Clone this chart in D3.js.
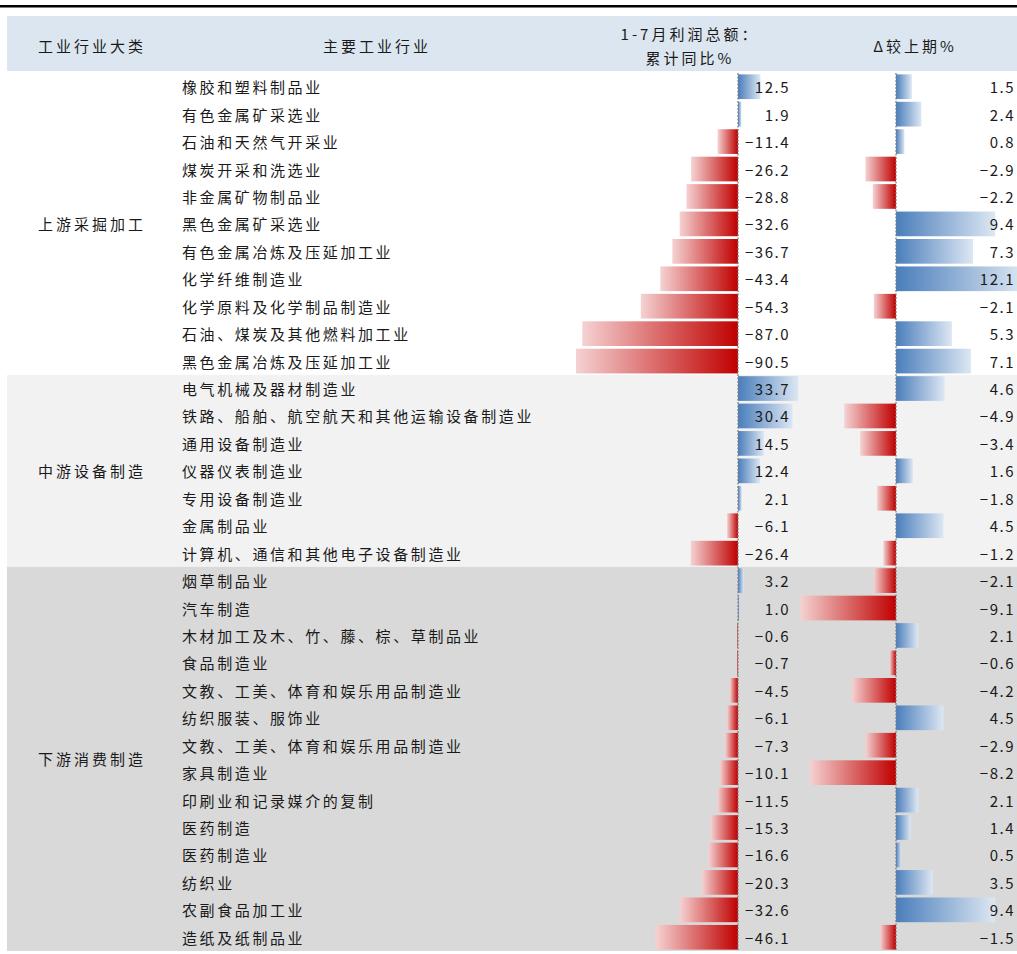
<!DOCTYPE html>
<html>
<head>
<meta charset="utf-8">
<script src="https://cdn.jsdelivr.net/npm/d3@7"></script>
<style>
  body { margin: 0; background: #fff; }
  svg text { font-family: "Noto Sans CJK SC", "Noto Sans", sans-serif; fill: #1a1a1a; }
</style>
</head>
<body>
<div id="chart"></div>
<script>
// Datos de la tabla
const groups = ["上游采掘加工", "中游设备制造", "下游消费制造"];
const groupSizes = [11, 7, 14];

const industries = [
  "橡胶和塑料制品业", "有色金属矿采选业", "石油和天然气开采业", "煤炭开采和洗选业",
  "非金属矿物制品业", "黑色金属矿采选业", "有色金属冶炼及压延加工业", "化学纤维制造业",
  "化学原料及化学制品制造业", "石油、煤炭及其他燃料加工业", "黑色金属冶炼及压延加工业",
  "电气机械及器材制造业", "铁路、船舶、航空航天和其他运输设备制造业", "通用设备制造业",
  "仪器仪表制造业", "专用设备制造业", "金属制品业", "计算机、通信和其他电子设备制造业",
  "烟草制品业", "汽车制造", "木材加工及木、竹、藤、棕、草制品业", "食品制造业",
  "文教、工美、体育和娱乐用品制造业", "纺织服装、服饰业", "文教、工美、体育和娱乐用品制造业",
  "家具制造业", "印刷业和记录媒介的复制", "医药制造", "医药制造业", "纺织业",
  "农副食品加工业", "造纸及纸制品业"
];

const profitYoY = [
  12.5, 1.9, -11.4, -26.2, -28.8, -32.6, -36.7, -43.4, -54.3, -87.0, -90.5,
  33.7, 30.4, 14.5, 12.4, 2.1, -6.1, -26.4,
  3.2, 1.0, -0.6, -0.7, -4.5, -6.1, -7.3, -10.1, -11.5, -15.3, -16.6, -20.3, -32.6, -46.1
];

const changeVsPrev = [
  1.5, 2.4, 0.8, -2.9, -2.2, 9.4, 7.3, 12.1, -2.1, 5.3, 7.1,
  4.6, -4.9, -3.4, 1.6, -1.8, 4.5, -1.2,
  -2.1, -9.1, 2.1, -0.6, -4.2, 4.5, -2.9, -8.2, 2.1, 1.4, 0.5, 3.5, 9.4, -1.5
];

const headers = ["工业行业大类", "主要工业行业", ["1-7月利润总额：", "累计同比%"], "Δ较上期%"];

// Dimensiones
const WIDTH = 1017;
const HEIGHT = 954;
const rowsTop = 73;
const rowsBottom = 951;

const svg = d3.select("#chart")
  .append("svg")
  .attr("width", WIDTH)
  .attr("height", HEIGHT);

// Gradientes tipo "data bar" de Excel
const defs = svg.append("defs");
const redGrad = defs.append("linearGradient").attr("id", "redGrad")
  .attr("x1", "0").attr("x2", "1").attr("y1", "0").attr("y2", "0");
redGrad.append("stop").attr("offset", "0%").attr("stop-color", "#f5d2d2");
redGrad.append("stop").attr("offset", "100%").attr("stop-color", "#c00000");

const blueGrad = defs.append("linearGradient").attr("id", "blueGrad")
  .attr("x1", "0").attr("x2", "1").attr("y1", "0").attr("y2", "0");
blueGrad.append("stop").attr("offset", "0%").attr("stop-color", "#4a7ebb");
blueGrad.append("stop").attr("offset", "100%").attr("stop-color", "#dde7f3");

// Escalas
const yScale = d3.scaleBand()
  .domain(d3.range(industries.length))
  .range([rowsTop, rowsBottom])
  .paddingInner(0.1)
  .paddingOuter(0.05);

const x1 = d3.scaleLinear().domain([-100, 40]).range([559, 809.6]);
const x2 = d3.scaleLinear().domain([-10, 12]).range([790.5, 1022.6]);

const rowTop = i => rowsTop + i * (rowsBottom - rowsTop) / industries.length;
const rowH = (rowsBottom - rowsTop) / industries.length;
const rowMid = i => rowTop(i) + rowH / 2;

// Línea superior
svg.append("rect").attr("x", 0).attr("y", 5).attr("width", WIDTH).attr("height", 2.5).attr("fill", "#000");

// Cabecera
svg.append("rect").attr("x", 7).attr("y", 16).attr("width", WIDTH - 7).attr("height", 55).attr("fill", "#dce6f0");

const head = svg.append("g").attr("font-size", "15px").attr("letter-spacing", "3px");
head.append("text").attr("x", 92).attr("y", 45).attr("text-anchor", "middle")
  .attr("dominant-baseline", "central").text(headers[0]);
head.append("text").attr("x", 377).attr("y", 45).attr("text-anchor", "middle")
  .attr("dominant-baseline", "central").text(headers[1]);
head.append("text").attr("x", 690).attr("y", 33).attr("text-anchor", "middle")
  .attr("dominant-baseline", "central").text(headers[2][0]);
head.append("text").attr("x", 690).attr("y", 57).attr("text-anchor", "middle")
  .attr("dominant-baseline", "central").text(headers[2][1]);
head.append("text").attr("x", 915).attr("y", 45).attr("text-anchor", "middle")
  .attr("dominant-baseline", "central").text(headers[3]);

// Fondos de cada grupo
const groupFill = ["#ffffff", "#f2f2f2", "#d9d9d9"];
let start = 0;
const groupInfo = groups.map((g, k) => {
  const info = { name: g, start: start, size: groupSizes[k], fill: groupFill[k] };
  start += groupSizes[k];
  return info;
});

svg.append("g").selectAll("rect")
  .data(groupInfo)
  .join("rect")
  .attr("x", 7)
  .attr("y", d => rowTop(d.start))
  .attr("width", WIDTH - 7)
  .attr("height", d => d.size * rowH)
  .attr("fill", d => d.fill);

svg.append("g").attr("font-size", "15px").attr("letter-spacing", "3px")
  .selectAll("text")
  .data(groupInfo)
  .join("text")
  .attr("x", 92)
  .attr("y", d => rowMid(d.start + (d.size - 1) / 2))
  .attr("text-anchor", "middle")
  .attr("dominant-baseline", "central")
  .text(d => d.name);

// Nombres de industrias
svg.append("g").attr("font-size", "15px").attr("letter-spacing", "2.6px")
  .selectAll("text")
  .data(industries)
  .join("text")
  .attr("x", 182)
  .attr("y", (d, i) => rowMid(i))
  .attr("dominant-baseline", "central")
  .text(d => d);

// Función para dibujar una columna de barras
function drawBars(values, xs, labelX, id) {
  const g = svg.append("g").attr("id", id);
  g.selectAll("rect")
    .data(values)
    .join("rect")
    .attr("x", d => Math.min(xs(0), xs(d)))
    .attr("y", (d, i) => yScale(i))
    .attr("width", d => Math.abs(xs(d) - xs(0)))
    .attr("height", yScale.bandwidth())
    .attr("fill", d => d < 0 ? "url(#redGrad)" : "url(#blueGrad)");

  g.append("line")
    .attr("x1", xs(0)).attr("x2", xs(0))
    .attr("y1", rowsTop).attr("y2", rowsBottom)
    .attr("stroke", "#7f7f7f")
    .attr("stroke-width", 1.2)
    .attr("stroke-dasharray", "2,1.5");

  g.append("g").attr("font-size", "15px").attr("letter-spacing", "1.5px")
    .selectAll("text")
    .data(values)
    .join("text")
    .attr("x", labelX)
    .attr("y", (d, i) => rowMid(i))
    .attr("text-anchor", "end")
    .attr("dominant-baseline", "central")
    .text(d => d3.format(".1f")(d));
}

drawBars(profitYoY, x1, 790, "col1");
drawBars(changeVsPrev, x2, 1015, "col2");
</script>
</body>
</html>
